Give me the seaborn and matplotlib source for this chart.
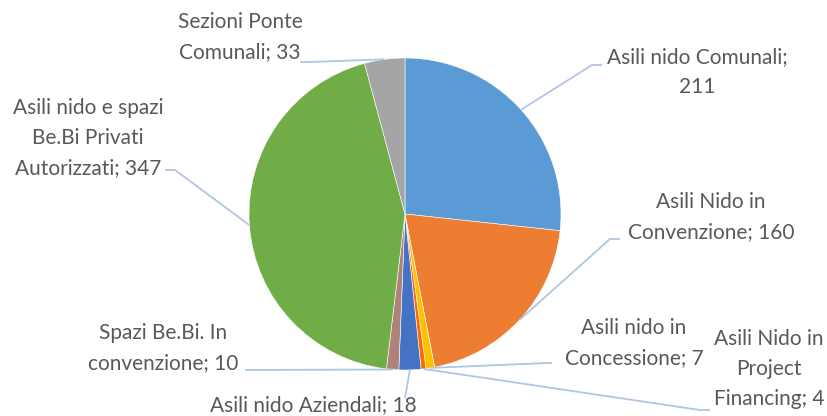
import numpy as np
import seaborn as sns
import matplotlib.pyplot as plt

# Data (clockwise from 12 o'clock)
categories = ["Asili nido Comunali", "Asili Nido in Convenzione", "Asili nido in Concessione",
              "Asili Nido in Project Financing", "Asili nido Aziendali", "Spazi Be.Bi. In convenzione",
              "Asili nido e spazi Be.Bi Privati Autorizzati", "Sezioni Ponte Comunali"]
values = [211, 160, 7, 4, 18, 10, 347, 33]
label_texts = ["Asili nido Comunali;\n{}", "Asili Nido in\nConvenzione; {}", "Asili nido in\nConcessione; {}",
               "Asili Nido in\nProject\nFinancing; {}", "Asili nido Aziendali; {}",
               "Spazi Be.Bi. In\nconvenzione; {}", "Asili nido e spazi\nBe.Bi Privati\nAutorizzati; {}",
               "Sezioni Ponte\nComunali; {}"]
colors = ["#5B9BD5", "#ED7D31", "#FFC000", "#FF6A00", "#4472C4", "#AD8279", "#70AD47", "#A5A5A5"]

sns.set_theme(style="white")
plt.rcParams['font.family'] = ['Lato', 'DejaVu Sans']

W, H = 827, 416
fig = plt.figure(figsize=(W / 100, H / 100), dpi=100)
ax = fig.add_axes([0, 0, 1, 1])

cx, cy, r = 405, H - 214, 156
wedges, _ = ax.pie(values, colors=colors, startangle=90, counterclock=False,
                   center=(cx, cy), radius=r, frame=True,
                   wedgeprops=dict(edgecolor="white", linewidth=0.4))
ax.set_xlim(0, W)
ax.set_ylim(0, H)
ax.set_aspect('equal')
ax.axis('off')

# label placement (pixel coords, y down): text centre, leader elbow points
label_pos = [(697, 72), (711, 217), (634, 343), (769, 369), (313, 405), (163, 348), (88, 138), (240, 37)]
leader_pts = [[(592, 65), (602, 65)], [(610, 239), (620, 239)], [(547, 363), (552, 363)],
              [(700, 410), (710, 410)], [(405, 398)], [(245, 370)],
              [(175, 170), (165, 170)], [(310, 62), (300, 62)]]

for w, v, txt, pos, pts in zip(wedges, values, label_texts, label_pos, leader_pts):
    ang = np.deg2rad((w.theta1 + w.theta2) / 2)
    ax_x, ax_y = cx + r * np.cos(ang), cy + r * np.sin(ang)
    xs = [ax_x] + [p[0] for p in pts]
    ys = [ax_y] + [H - p[1] for p in pts]
    ax.plot(xs, ys, color="#B0C6E2", lw=1.3, solid_capstyle="butt", zorder=1)
    ax.text(pos[0], H - pos[1], txt.format(v), ha="center", va="center",
            fontsize=15, color="#595959", linespacing=1.6)

fig.savefig("out.png", dpi=100)
